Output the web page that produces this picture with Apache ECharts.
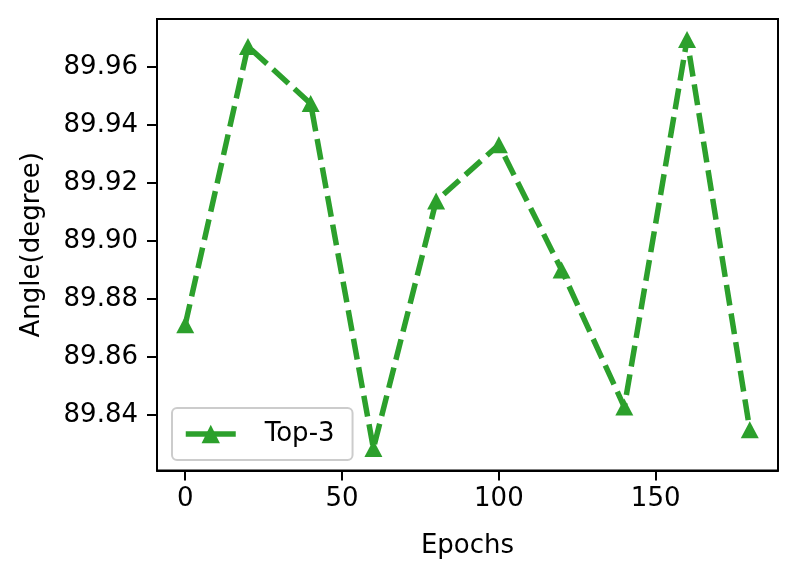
<!DOCTYPE html>
<html>
<head>
<meta charset="utf-8">
<script src="https://cdn.jsdelivr.net/npm/echarts@6/dist/echarts.min.js"></script>
<style>
html,body{margin:0;padding:0;background:#fff;}
#main{width:798px;height:579px;}
</style>
</head>
<body>
<div id="main"></div>
<script>
// data
var epochs = [0, 20, 40, 60, 80, 100, 120, 140, 160, 180];
var top3 = [89.8711, 89.9671, 89.9474, 89.8284, 89.9138, 89.9332, 89.8900, 89.8427, 89.9695, 89.8349];
var xTicks = [0, 50, 100, 150];
var yTicks = [89.84, 89.86, 89.88, 89.90, 89.92, 89.94, 89.96];

var font = 'DejaVu Sans';
var fs = 26;
var green = '#2ca02c';

var myChart = echarts.init(document.getElementById('main'), null, {renderer: 'canvas'});
var points = [];
for (var i = 0; i < epochs.length; i++) {
	points.push([epochs[i], top3[i]]);
}

var option = {
	animation: false,
	backgroundColor: '#fff',
	grid: {
		left: 157,
		right: 20,
		top: 19,
		bottom: 108.5,
		show: true,
		borderColor: '#000',
		borderWidth: 2,
		backgroundColor: 'transparent'
	},
	legend: {
		data: ['Top-3'],
		left: 172,
		top: 408,
		orient: 'vertical',
		itemWidth: 50,
		itemHeight: 23,
		padding: [12, 18, 12, 11],
		backgroundColor: 'rgba(255,255,255,0.8)',
		borderColor: '#cccccc',
		borderWidth: 2,
		borderRadius: 5,
		lineStyle: {width: 5.5, type: 'solid', color: green},
		textStyle: {
			fontFamily: font,
			fontSize: fs,
			color: '#000',
			lineHeight: 28,
			padding: [0, 0, 0, 24]
		}
	},
	xAxis: {
		type: 'value',
		min: -9,
		max: 189,
		name: 'Epochs',
		nameLocation: 'middle',
		nameGap: 63,
		nameTextStyle: {fontFamily: font, fontSize: fs, color: '#000'},
		axisLine: {show: true, onZero: false, lineStyle: {color: '#000', width: 2}},
		axisTick: {show: true, inside: false, length: 10, lineStyle: {color: '#000', width: 2}, customValues: xTicks},
		axisLabel: {fontFamily: font, fontSize: fs, color: '#000', margin: 16, customValues: xTicks},
		splitLine: {show: false}
	},
	yAxis: {
		type: 'value',
		min: 89.8208,
		max: 89.9766,
		name: 'Angle(degree)',
		nameLocation: 'middle',
		nameGap: 112,
		nameTextStyle: {fontFamily: font, fontSize: fs, color: '#000'},
		axisLine: {show: true, onZero: false, lineStyle: {color: '#000', width: 2}},
		axisTick: {show: true, inside: false, length: 10, lineStyle: {color: '#000', width: 2}, customValues: yTicks},
		axisLabel: {
			fontFamily: font, fontSize: fs, color: '#000', margin: 19,
			customValues: yTicks,
			formatter: function (v) { return v.toFixed(2); }
		},
		splitLine: {show: false}
	},
	series: [
		{
			name: 'Top-3',
			type: 'line',
			data: points,
			symbol: 'triangle',
			symbolSize: [18, 17],
			itemStyle: {color: green},
			lineStyle: {color: green, width: 5.5, type: [21, 8], cap: 'butt'}
		}
	]
};
myChart.setOption(option);
</script>
</body>
</html>
